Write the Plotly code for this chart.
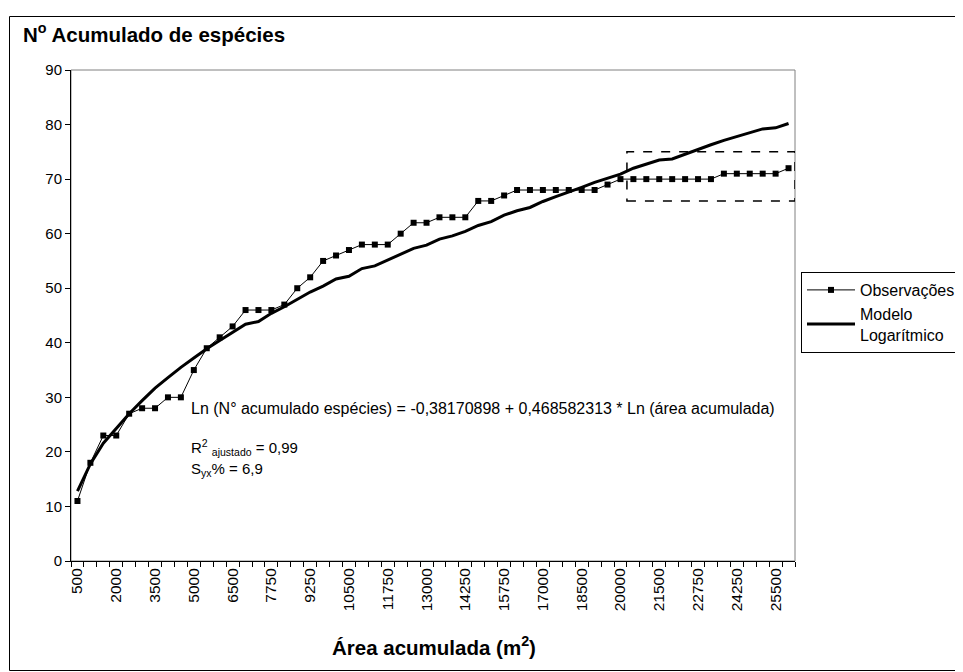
import plotly.graph_objects as go

# Category areas (m2) - one per observation
areas = [500, 1000, 1500, 2000, 2500, 3000, 3500, 4000, 4500, 5000, 5500, 6000, 6500,
         7000, 7250, 7750, 8250, 8750, 9250, 9750, 10000, 10500, 11000, 11250, 11750,
         12250, 12750, 13000, 13500, 13750, 14250, 14750, 15250, 15750, 16250, 16500,
         17000, 17500, 18000, 18500, 19000, 19500, 20000, 20500, 21000, 21500, 21750,
         22250, 22750, 23250, 23750, 24250, 24750, 25250, 25500, 26000]

observacoes = [11, 18, 23, 23, 27, 28, 28, 30, 30, 35, 39, 41, 43, 46, 46, 46, 47, 50,
               52, 55, 56, 57, 58, 58, 58, 60, 62, 62, 63, 63, 63, 66, 66, 67, 68, 68,
               68, 68, 68, 68, 68, 69, 70, 70, 70, 70, 70, 70, 70, 70, 71, 71, 71, 71,
               71, 72]

modelo = [12.8, 17.8, 21.6, 24.4, 27.0, 29.4, 31.7, 33.6, 35.5, 37.2, 38.9, 40.4, 41.9,
          43.4, 43.9, 45.4, 46.6, 48.0, 49.3, 50.4, 51.7, 52.2, 53.6, 54.1, 55.2, 56.3,
          57.3, 57.9, 59.0, 59.6, 60.4, 61.5, 62.2, 63.4, 64.2, 64.8, 65.9, 66.8, 67.6,
          68.5, 69.4, 70.2, 70.9, 72.0, 72.8, 73.5, 73.7, 74.6, 75.5, 76.3, 77.1, 77.8,
          78.6, 79.2, 79.4, 80.2]

tick_step = 3
tick_labels = [str(a) for a in areas[::tick_step]]

y_ticks = list(range(0, 91, 10))

FONT = "Liberation Sans, Arial, sans-serif"

idx = list(range(len(areas)))

fig = go.Figure()
fig.add_trace(go.Scatter(
    x=idx, y=observacoes, name="Observações", mode="lines+markers",
    line=dict(color="black", width=1),
    marker=dict(symbol="square", size=6, color="black"),
))
fig.add_trace(go.Scatter(
    x=idx, y=modelo, name="Modelo<br>Logarítmico", mode="lines",
    line=dict(color="black", width=3),
))

n = len(areas)
# page body has an 8px margin, so the figure is drawn 8px smaller and offset
fig.update_layout(
    width=955, height=664,
    margin=dict(l=63, r=168, t=62, b=111, autoexpand=False),
    paper_bgcolor="white", plot_bgcolor="white",
    font=dict(family=FONT, size=14, color="black"),
    showlegend=True,
    legend=dict(
        x=(801 - 71) / 724, y=(561 - 272) / 491, xanchor="left", yanchor="top",
        bordercolor="black", borderwidth=1, bgcolor="white",
        font=dict(family=FONT, size=16, color="black"),
        itemwidth=48, tracegroupgap=8,
    ),
    xaxis=dict(
        range=[-0.5, n - 0.5], showgrid=False, zeroline=False,
        showline=True, linecolor="black", linewidth=1,
        tickmode="array", tickvals=idx[::tick_step], ticktext=tick_labels,
        tickangle=-90, ticks="", tickfont=dict(family=FONT, size=15.5, color="black"),
        minor=dict(ticks="outside", tickmode="linear", tick0=-0.5, dtick=1,
                   ticklen=5, tickcolor="black", tickwidth=1, showgrid=False),
    ),
    yaxis=dict(
        range=[0, 90], showgrid=False, zeroline=False,
        showline=True, linecolor="black", linewidth=1,
        tickmode="array", tickvals=y_ticks,
        ticks="outside", ticklen=5, tickcolor="black",
        tickfont=dict(family=FONT, size=15, color="black"),
    ),
)

# plot area border (gray, top & right)
fig.add_shape(type="rect", xref="x domain", yref="y domain", x0=0, x1=1, y0=0, y1=1,
              line=dict(color="#808080", width=1), layer="below")
# outer chart border
fig.add_shape(type="rect", xref="paper", yref="paper",
              x0=(9.5 - 71) / 724, x1=(962 - 71) / 724,
              y0=(561 - 670.5) / 491, y1=(561 - 16.5) / 491,
              line=dict(color="black", width=1))
# dashed highlight rectangle
fig.add_shape(type="rect", xref="x", yref="y", x0=42.5, x1=n - 0.5, y0=66, y1=75,
              line=dict(color="black", width=1.5, dash="dash"))

fig.add_annotation(text="<b>N<sup>o</sup> Acumulado de espécies</b>", xref="paper", yref="paper",
                   x=(21 - 71) / 724, y=(561 - 33) / 491, xanchor="left", yanchor="middle",
                   showarrow=False, font=dict(family=FONT, size=20.5, color="black"))
fig.add_annotation(text="<b>Área acumulada (m<sup>2</sup>)</b>", xref="paper", yref="paper",
                   x=(434 - 71) / 724, y=(561 - 646) / 491, xanchor="center", yanchor="middle",
                   showarrow=False, font=dict(family=FONT, size=20.5, color="black"))
fig.add_annotation(text="Ln (N° acumulado espécies) = -0,38170898 + 0,468582313 * Ln (área acumulada)",
                   xref="paper", yref="paper", x=(189 - 71) / 724, y=(561 - 408) / 491,
                   xanchor="left", yanchor="middle", showarrow=False,
                   font=dict(family=FONT, size=16, color="black"))
fig.add_annotation(text="R<sup>2</sup> <sub>ajustado</sub> = 0,99",
                   xref="paper", yref="paper", x=(189 - 71) / 724, y=(561 - 447) / 491,
                   xanchor="left", yanchor="middle", showarrow=False,
                   font=dict(family=FONT, size=15, color="black"))
fig.add_annotation(text="S<sub>yx</sub>% = 6,9",
                   xref="paper", yref="paper", x=(189 - 71) / 724, y=(561 - 469) / 491,
                   xanchor="left", yanchor="middle", showarrow=False,
                   font=dict(family=FONT, size=15, color="black"))

fig.write_html("out.html")
